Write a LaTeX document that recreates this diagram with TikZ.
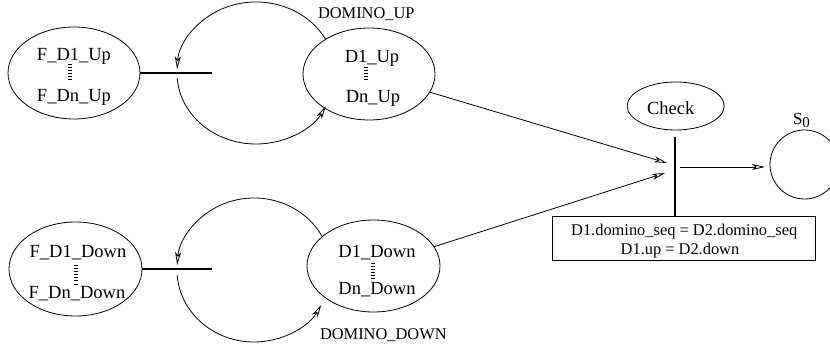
\documentclass[tikz,border=0pt]{standalone}
\usepackage{fontspec}
\setmainfont{Liberation Serif}
\usetikzlibrary{arrows.meta,shapes.geometric}
\begin{document}
\begin{tikzpicture}[x=1pt,y=1pt,
  every node/.style={inner sep=0pt, outer sep=0pt},
  st/.style={draw, ellipse, line width=0.8pt},
  lbl/.style={font=\fontsize{18.5}{22}\selectfont},
  small/.style={font=\fontsize{16.4}{20}\selectfont},
  arr/.style={line width=0.8pt, -{Stealth[open, length=13pt, width=6pt, inset=3.5pt]}},
  bar/.style={line width=1.2pt},
  dots/.style={line width=3.2pt, dash pattern=on 0.9pt off 2.2pt},
  thin/.style={line width=0.8pt},
]
\useasboundingbox (0,0) rectangle (830,-352);

% places
\node[st, minimum width=132, minimum height=92] (fup) at (74,-73) {};
\node[st, minimum width=132, minimum height=92] (dup) at (369,-74) {};
\node[st, minimum width=133, minimum height=94] (fdown) at (75.5,-269) {};
\node[st, minimum width=133, minimum height=92] (ddown) at (373.5,-266) {};
\node[st, minimum width=97, minimum height=48] (check) at (675.7,-106) {};
\node[draw, circle, thin, minimum size=69] (s0) at (804.5,-164.5) {};
\node[draw, rectangle, thin, minimum width=263, minimum height=44] (box) at (683.5,-238) {};

% labels
\node[lbl, anchor=base] (t1) at (74,-61) {F\_D1\_Up};
\node[lbl, anchor=base] (t2) at (74,-102) {F\_Dn\_Up};
\node[lbl, anchor=base] (t3) at (372,-63) {D1\_Up};
\node[lbl, anchor=base] (t4) at (373,-103) {Dn\_Up};
\node[lbl, anchor=base] (t5) at (78,-257.5) {F\_D1\_Down};
\node[lbl, anchor=base] (t6) at (77,-298.5) {F\_Dn\_Down};
\node[lbl, anchor=base] (t7) at (377,-257.5) {D1\_Down};
\node[lbl, anchor=base] (t8) at (377,-295) {Dn\_Down};
\node[lbl, anchor=base] (t9) at (670.7,-115) {Check};
\node[small, anchor=base] (t10) at (684.2,-236) {D1.domino\_seq = D2.domino\_seq};
\node[small, anchor=base] (t11) at (680,-255) {D1.up = D2.down};
\node[small, anchor=base west] (t12) at (318,-18.5) {DOMINO\_UP};
\node[small, anchor=base west] (t13) at (320,-339.5) {DOMINO\_DOWN};
\node[anchor=base west, font=\fontsize{17}{20}\selectfont] (t14) at (793,-125) {S\raisebox{-3pt}{\fontsize{15}{16}\selectfont 0}};

% dotted ellipsis marks
\coordinate (d1a) at (70,-64);   \coordinate (d1b) at (70,-80);
\coordinate (d2a) at (366,-67);  \coordinate (d2b) at (366,-82);
\coordinate (d3a) at (76,-265);  \coordinate (d3b) at (76,-285);
\coordinate (d4a) at (373,-263); \coordinate (d4b) at (373,-279);
\draw[dots] (d1a) -- (d1b);
\draw[dots] (d2a) -- (d2b);
\draw[dots] (d3a) -- (d3b);
\draw[dots] (d4a) -- (d4b);

% left transition bars
\coordinate (b1end) at (212,-73);
\coordinate (b2end) at (212,-269);
\draw[bar] (fup.east) -- (b1end);
\draw[bar] (fdown.east) -- (b2end);

% loops
\coordinate (c1) at (256,-73);
\coordinate (c2) at (254,-270);
\draw[arr] (c1) ++(28:79 and 71) arc[start angle=28, end angle=177, x radius=79, y radius=71];
\draw[arr] (c1) ++(184:79 and 71) arc[start angle=184, end angle=332, x radius=79, y radius=71];
\draw[arr] (c2) ++(28:77 and 72) arc[start angle=28, end angle=176, x radius=77, y radius=72];
\draw[arr] (c2) ++(184:77 and 72) arc[start angle=184, end angle=331, x radius=77, y radius=72];

% right transition
\coordinate (tbtop) at (675,-137);
\draw[bar] (tbtop) -- (tbtop |- box.north);
\coordinate (in1) at (667,-163);
\coordinate (in2) at (665,-173);
\coordinate (out1) at (680,-167);
\coordinate (out1end) at (765,-167);
\draw[arr] (dup) -- (in1);
\draw[arr] (ddown) -- (in2);
\draw[arr] (out1) -- (out1end);
\end{tikzpicture}
\end{document}
